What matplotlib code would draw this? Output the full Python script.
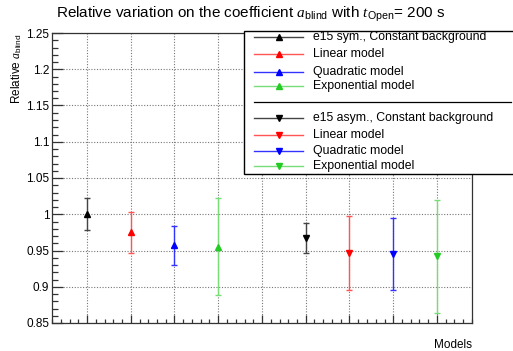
import matplotlib
matplotlib.use("Agg")
import matplotlib.pyplot as plt
from matplotlib.lines import Line2D
from matplotlib.patches import Rectangle
from matplotlib.ticker import MultipleLocator, FuncFormatter

plt.rcParams['font.family'] = ['Liberation Sans', 'DejaVu Sans']
plt.rcParams['mathtext.fontset'] = 'custom'
plt.rcParams['mathtext.rm'] = 'Liberation Sans'
plt.rcParams['mathtext.it'] = 'Liberation Serif:italic'
plt.rcParams['mathtext.bf'] = 'Liberation Sans:bold'

# ---- data ----
labels_sym = ["e15 sym., Constant background", "Linear model", "Quadratic model", "Exponential model"]
labels_asym = ["e15 asym., Constant background", "Linear model", "Quadratic model", "Exponential model"]
x_sym = [1, 2, 3, 4]
x_asym = [6, 7, 8, 9]
val_sym = [1.000, 0.975, 0.957, 0.955]
err_sym = [0.022, 0.028, 0.027, 0.067]
val_asym = [0.967, 0.946, 0.945, 0.942]
err_asym = [0.021, 0.051, 0.050, 0.078]
marker_colors = ["#000000", "#ff0000", "#0000ff", "#22cc22"]
bar_colors = ["#444444", "#ff5555", "#3333ff", "#77dd77"]

W, H = 513, 351
fig = plt.figure(figsize=(W / 100, H / 100), dpi=100)
ax = fig.add_axes([52 / W, 1 - 323 / H, (472 - 52) / W, (323 - 33) / H])

for xs, vs, es, mk in [(x_sym, val_sym, err_sym, '^'), (x_asym, val_asym, err_asym, 'v')]:
    for i in range(4):
        ax.errorbar([xs[i]], [vs[i]], yerr=[es[i]], fmt='none', ecolor=bar_colors[i],
                    elinewidth=1.0, capsize=2, capthick=1.0, zorder=3)
        ax.plot([xs[i]], [vs[i]], linestyle='none', marker=mk, markersize=4.8,
                color=marker_colors[i], zorder=4)

ax.set_xlim(0.2, 9.8)
ax.set_ylim(0.85, 1.25)
ax.xaxis.set_major_locator(MultipleLocator(1))
ax.xaxis.set_minor_locator(MultipleLocator(0.2))
ax.yaxis.set_major_locator(MultipleLocator(0.05))
ax.yaxis.set_minor_locator(MultipleLocator(0.01))
ax.xaxis.set_major_formatter(FuncFormatter(lambda v, p: ""))
ax.yaxis.set_major_formatter(FuncFormatter(lambda v, p: "%g" % round(v, 2)))
ax.tick_params(axis='both', which='both', direction='in', colors='#333333', labelcolor='black',
               labelsize=8.5, top=False, right=False, width=0.9)
ax.tick_params(axis='x', which='major', length=6)
ax.tick_params(axis='x', which='minor', length=3)
ax.tick_params(axis='y', which='major', length=8, pad=2)
ax.tick_params(axis='y', which='minor', length=4.5)
ax.grid(True, which='major', linestyle=(0, (1, 1.5)), color='#777777', linewidth=0.8)
for s in ax.spines.values():
    s.set_color('#333333')
    s.set_linewidth(0.9)

fig.text(251 / W, 1 - 15 / H,
         r"Relative variation on the coefficient $a_{\mathrm{blind}}$ with $t_{\mathrm{Open}}$= 200 s",
         ha='center', va='center', fontsize=11)
fig.text(17 / W, 1 - 33 / H, r"Relative $a_{\mathrm{blind}}$", rotation=90, ha='center', va='top',
         fontsize=8.5)
fig.text(472 / W, 1 - 345 / H, "Models", ha='right', va='center', fontsize=8.5)

# ---- legend ----
leg_box = Rectangle((244 / W, 1 - 174 / H), (W + 5 - 244) / W, (174 - 31) / H,
                    transform=fig.transFigure, facecolor='white', edgecolor='black',
                    linewidth=1.0, zorder=10, clip_on=False)
fig.add_artist(leg_box)
fig.add_artist(Line2D([254 / W, 511 / W], [1 - 102 / H, 1 - 102 / H], transform=fig.transFigure,
                      color='black', linewidth=0.9, zorder=11))
rows_sym = [37, 54, 71.5, 86]
rows_asym = [118, 135, 151, 166]
for labels, rows, mk in [(labels_sym, rows_sym, '^'), (labels_asym, rows_asym, 'v')]:
    for i in range(4):
        yy = 1 - rows[i] / H
        fig.add_artist(Line2D([254 / W, 303 / W], [yy, yy], transform=fig.transFigure,
                              color=bar_colors[i], linewidth=1.0, zorder=11))
        fig.add_artist(Line2D([279 / W], [yy], transform=fig.transFigure, linestyle='none',
                              marker=mk, markersize=4.5, color=marker_colors[i], zorder=12))
        fig.text(313 / W, yy, labels[i], ha='left', va='center', fontsize=8.8, zorder=12)

fig.savefig("out.png", dpi=100)
